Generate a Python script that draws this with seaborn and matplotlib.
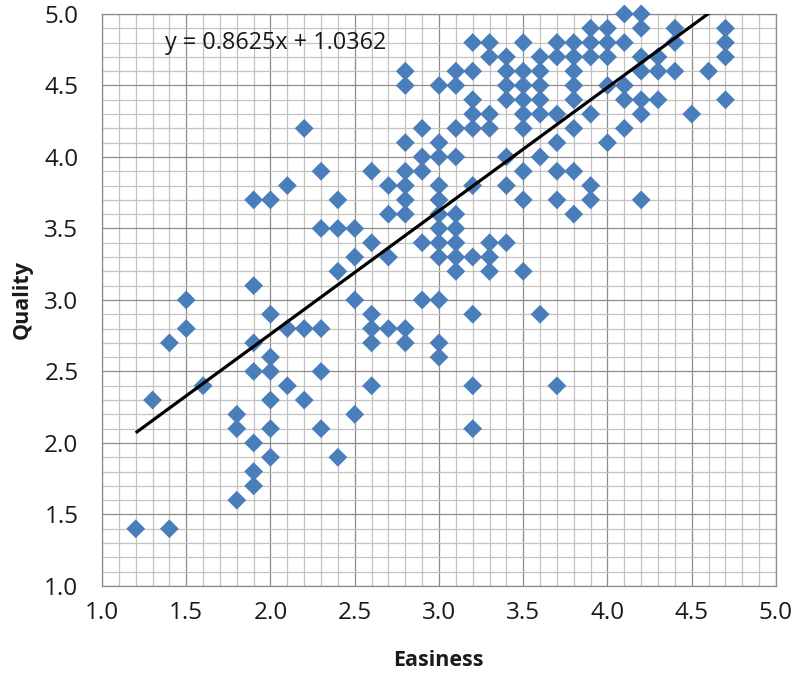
import numpy as np
import pandas as pd
import matplotlib
matplotlib.use("Agg")
import matplotlib.pyplot as plt
from matplotlib.ticker import MultipleLocator
import seaborn as sns

# Easiness / Quality ratings, grouped by easiness value
easiness = [
    1.2, 1.4, 1.3, 1.4, 1.5, 1.5, 1.6,
    1.8, 1.8, 1.8,
    1.9, 1.9, 1.9, 1.9, 1.9, 1.9, 1.9,
    2.0, 2.0, 2.0, 2.0, 2.0, 2.0, 2.0,
    2.1, 2.1, 2.1,
    2.2, 2.2, 2.2,
    2.3, 2.3, 2.3, 2.3, 2.3,
    2.4, 2.4, 2.4, 2.4,
    2.5, 2.5, 2.5, 2.5,
    2.6, 2.6, 2.6, 2.6, 2.6, 2.6,
    2.7, 2.7, 2.7, 2.7,
    2.8, 2.8, 2.8, 2.8, 2.8, 2.8, 2.8, 2.8, 2.8,
    2.9, 2.9, 2.9, 2.9, 2.9,
    3.0, 3.0, 3.0, 3.0, 3.0, 3.0, 3.0, 3.0, 3.0, 3.0, 3.0, 3.0,
    3.1, 3.1, 3.1, 3.1, 3.1, 3.1, 3.1, 3.1, 3.1,
    3.2, 3.2, 3.2, 3.2, 3.2, 3.2, 3.2, 3.2, 3.2, 3.2,
    3.3, 3.3, 3.3, 3.3, 3.3, 3.3, 3.3,
    3.4, 3.4, 3.4, 3.4, 3.4, 3.4, 3.4,
    3.5, 3.5, 3.5, 3.5, 3.5, 3.5, 3.5, 3.5, 3.5,
    3.6, 3.6, 3.6, 3.6, 3.6, 3.6, 3.6,
    3.7, 3.7, 3.7, 3.7, 3.7, 3.7, 3.7,
    3.8, 3.8, 3.8, 3.8, 3.8, 3.8, 3.8, 3.8,
    3.9, 3.9, 3.9, 3.9, 3.9, 3.9,
    4.0, 4.0, 4.0, 4.0, 4.0,
    4.1, 4.1, 4.1, 4.1, 4.1,
    4.2, 4.2, 4.2, 4.2, 4.2, 4.2, 4.2,
    4.3, 4.3, 4.3,
    4.4, 4.4, 4.4,
    4.5,
    4.6,
    4.7, 4.7, 4.7, 4.7,
]
quality = [
    1.4, 1.4, 2.3, 2.7, 2.8, 3.0, 2.4,
    1.6, 2.1, 2.2,
    1.7, 1.8, 2.0, 2.5, 2.7, 3.1, 3.7,
    1.9, 2.1, 2.3, 2.5, 2.6, 2.9, 3.7,
    2.4, 2.8, 3.8,
    2.3, 2.8, 4.2,
    2.1, 2.5, 2.8, 3.5, 3.9,
    1.9, 3.2, 3.5, 3.7,
    2.2, 3.0, 3.3, 3.5,
    2.4, 2.7, 2.8, 2.9, 3.4, 3.9,
    2.8, 3.3, 3.6, 3.8,
    2.7, 2.8, 3.6, 3.7, 3.8, 3.9, 4.1, 4.5, 4.6,
    3.0, 3.4, 3.9, 4.0, 4.2,
    2.6, 2.7, 3.0, 3.3, 3.4, 3.5, 3.6, 3.7, 3.8, 4.0, 4.1, 4.5,
    3.2, 3.3, 3.4, 3.5, 3.6, 4.0, 4.2, 4.5, 4.6,
    2.1, 2.4, 2.9, 3.3, 3.8, 4.2, 4.3, 4.4, 4.6, 4.8,
    3.2, 3.3, 3.4, 4.2, 4.3, 4.7, 4.8,
    3.4, 3.8, 4.0, 4.4, 4.5, 4.6, 4.7,
    3.2, 3.7, 3.9, 4.2, 4.3, 4.4, 4.5, 4.6, 4.8,
    2.9, 4.0, 4.3, 4.4, 4.5, 4.6, 4.7,
    2.4, 3.7, 3.9, 4.1, 4.3, 4.7, 4.8,
    3.6, 3.9, 4.2, 4.4, 4.5, 4.6, 4.7, 4.8,
    3.7, 3.8, 4.3, 4.7, 4.8, 4.9,
    4.1, 4.5, 4.7, 4.8, 4.9,
    4.2, 4.4, 4.5, 4.8, 5.0,
    3.7, 4.3, 4.4, 4.6, 4.7, 4.9, 5.0,
    4.4, 4.6, 4.7,
    4.6, 4.8, 4.9,
    4.3,
    4.6,
    4.4, 4.7, 4.8, 4.9,
]

# Linear trendline coefficients shown on the chart
slope = 0.8625
intercept = 1.0362
trend_label = "y = 0.8625x + 1.0362"

axis_ticks = [1.0, 1.5, 2.0, 2.5, 3.0, 3.5, 4.0, 4.5, 5.0]

df = pd.DataFrame({"Easiness": easiness, "Quality": quality})

sns.set_theme(style="white")
plt.rcParams["font.family"] = ["Open Sans", "DejaVu Sans"]

fig = plt.figure(figsize=(7.95, 6.75), dpi=100)
ax = fig.add_axes([0.1283, 0.1319, 0.8478, 0.8474])

major_grid = "#8c8c8c"
minor_grid = "#c3c3c3"

ax.set_xlim(1.0, 5.0)
ax.set_ylim(1.0, 5.0)
ax.set_xticks(axis_ticks)
ax.set_yticks(axis_ticks)
ax.set_xticklabels([f"{t:.1f}" for t in axis_ticks])
ax.set_yticklabels([f"{t:.1f}" for t in axis_ticks])
ax.xaxis.set_minor_locator(MultipleLocator(0.1))
ax.yaxis.set_minor_locator(MultipleLocator(0.1))
ax.grid(which="minor", color=minor_grid, linewidth=0.9, zorder=0)
ax.grid(which="major", color=major_grid, linewidth=0.9, zorder=0)
ax.set_axisbelow(True)

for side in ["left", "bottom", "top", "right"]:
    ax.spines[side].set_color(major_grid)
    ax.spines[side].set_linewidth(0.9)

ax.tick_params(axis="both", which="major", direction="out", length=5,
               width=0.9, color=major_grid, labelsize=17.5, labelcolor="#1a1a1a")
ax.tick_params(axis="x", which="major", pad=6)
ax.tick_params(axis="y", which="major", pad=12)
ax.tick_params(which="minor", length=0)

sns.scatterplot(data=df, x="Easiness", y="Quality", marker="D", s=92,
                color="#4a7ebb", edgecolor="none", linewidth=0, ax=ax,
                zorder=3, clip_on=False)

# Trendline over the observed easiness range, clipped by the plot area
xs = np.array([min(easiness), max(easiness)])
ax.plot(xs, slope * xs + intercept, color="black", linewidth=2.3,
        zorder=4, solid_capstyle="butt")

ax.text(1.374, 4.80, trend_label, fontsize=16.8, color="#1a1a1a",
        ha="left", va="center", zorder=5)

ax.set_xlabel("Easiness", fontsize=15.5, fontweight="bold", color="#1a1a1a")
ax.set_ylabel("Quality", fontsize=15.5, fontweight="bold", color="#1a1a1a")
ax.xaxis.set_label_coords(0.499, -0.112)
ax.yaxis.set_label_coords(-0.103, 0.5)

fig.savefig("out.png", dpi=100)
